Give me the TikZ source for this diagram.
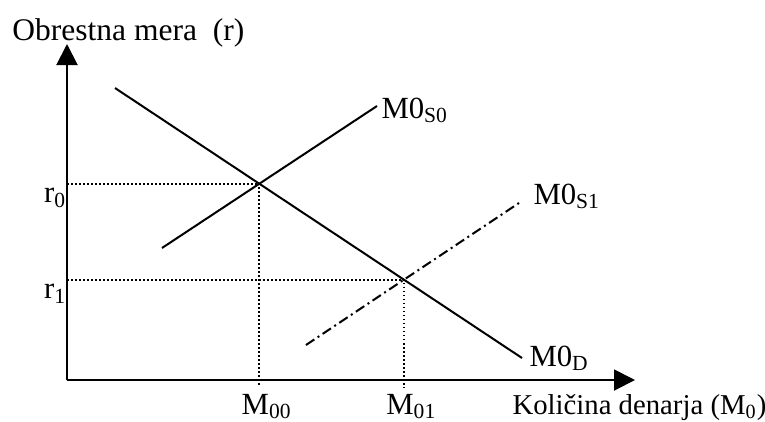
\documentclass[tikz,border=0pt]{standalone}
\usepackage{fontspec}
\setmainfont{Liberation Serif}
\usetikzlibrary{arrows.meta,intersections}

\begin{document}
\begin{tikzpicture}[x=0.4pt,y=-0.4pt,>={Triangle[length=8.4pt,width=8.4pt]},
  every node/.style={font=\fontsize{12.3}{14}\selectfont,inner sep=0pt},
  curve/.style={line width=0.8pt},
  guide/.style={line width=0.75pt,dash pattern=on 0.7pt off 0.9pt}]
  \useasboundingbox (0,0) rectangle (765,421);
  % axes
  \coordinate (O) at (67,380);
  \coordinate (Ytop) at (67,44);
  \coordinate (Xend) at (635,380);
  \coordinate (Low) at (67,387);
  \coordinate (Lab) at (67,414);
  \draw[->,line width=0.8pt] (O)--(Ytop);
  \draw[->,line width=0.8pt] (O)--(Xend);
  \node[anchor=base west,font=\fontsize{12.6}{14}\selectfont] (ylab) at (12,40) {Obrestna mera\ \ (r)};
  \node[anchor=base west,font=\fontsize{11.5}{14}\selectfont] (xlab) at (512,414) {Količina denarja (M\textsubscript{0})};
  % demand and the two supply lines
  \coordinate (D1) at (115,88);
  \coordinate (D2) at (522,358);
  \coordinate (S0a) at (162,248);
  \coordinate (S0b) at (377,106);
  \coordinate (S1a) at (306,345);
  \coordinate (S1b) at (522,201);
  \draw[curve,name path=dem] (D1)--(D2);
  \draw[curve,name path=sup0] (S0a)--(S0b);
  \draw[curve,name path=sup1,dash pattern=on 4pt off 1.6pt on 0.8pt off 1.6pt] (S1a)--(S1b);
  \node[anchor=base west] (md) at (529,366) {M0\textsubscript{D}};
  \node[anchor=base west] (ms0) at (381,118) {M0\textsubscript{S0}};
  \node[anchor=base west] (ms1) at (533,204) {M0\textsubscript{S1}};
  % equilibria
  \path[name intersections={of=dem and sup0,by=E0}];
  \path[name intersections={of=dem and sup1,by=E1}];
  \draw[guide] (O |- E0)--(E0)--(E0 |- Low);
  \draw[guide] (O |- E1)--(E1)--(E1 |- Low);
  \node[anchor=base east] (r0) at ([yshift=-7.6pt]O |- E0) {r\textsubscript{0}};
  \node[anchor=base east] (r1) at ([yshift=-7.6pt]O |- E1) {r\textsubscript{1}};
  \node[anchor=base,xshift=3pt] (m00) at (E0 |- Lab) {M\textsubscript{00}};
  \node[anchor=base,xshift=3pt] (m01) at (E1 |- Lab) {M\textsubscript{01}};
\end{tikzpicture}
\end{document}
